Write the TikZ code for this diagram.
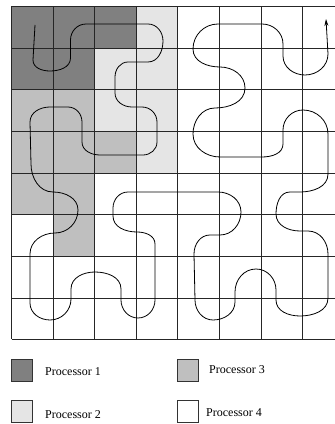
\documentclass[tikz,border=0pt]{standalone}
\usepackage{fontspec}
\setmainfont{Liberation Serif}
\usetikzlibrary{arrows.meta}
\definecolor{pone}{gray}{0.5}
\definecolor{ptwo}{gray}{0.9}
\definecolor{pthree}{gray}{0.75}
\tikzset{
  gridline/.style={line width=1pt, draw=black!85},
  curve/.style={line width=0.8pt, black},
  legbox/.style={draw=black!80, line width=1pt, minimum width=21pt, minimum height=22pt, inner sep=0pt},
  legtext/.style={anchor=west, inner sep=0pt, font=\fontsize{12}{14}\selectfont}
}
\def\GX{{11.5,53.5,94.5,136.5,177.5,219.5,261.5,302.5,344.5}}
\def\GY{{417.5,375.5,334.5,292.5,250.5,209.5,167.5,125.5,84.5}}
\begin{document}
\begin{tikzpicture}[x=1pt,y=1pt]
\useasboundingbox (0,0) rectangle (335,424);
\begin{scope}
\clip (0,0) rectangle (335,424);
% cells
\foreach \c/\r/\col in {0/0/pone,1/0/pone,2/0/pone,0/1/pone,1/1/pone,
  3/0/ptwo,2/1/ptwo,3/1/ptwo,2/2/ptwo,3/2/ptwo,3/3/ptwo,
  0/2/pthree,1/2/pthree,0/3/pthree,1/3/pthree,2/3/pthree,0/4/pthree,1/4/pthree,1/5/pthree}{
  \pgfmathsetmacro\xa{\GX[\c]}
  \pgfmathsetmacro\xb{\GX[\c+1]}
  \pgfmathsetmacro\ya{\GY[\r]}
  \pgfmathsetmacro\yb{\GY[\r+1]}
  \fill[\col] (\xa,\ya) rectangle (\xb,\yb);
}
\foreach \r in {0,...,8}{
  \pgfmathsetmacro\ya{\GY[\r]}
  \draw[gridline] (11.5,\ya) -- (340,\ya);
}
\foreach \c in {0,...,7}{
  \pgfmathsetmacro\xa{\GX[\c]}
  \draw[gridline] (\xa,417.5) -- (\xa,84.5);
}
% curve
\coordinate (cs) at (35,399);
\coordinate (ce) at (326,405);
\draw[curve, -{Stealth[length=7pt,width=4pt]}] (cs)
 -- (33,364)
 to[out=-90,in=180] (50,353)
 to[out=0,in=-90] (70.5,366)
 -- (70.5,384)
 to[out=90,in=180] (86,400)
 -- (148,400)
 to[out=0,in=90] (163,383)
 to[out=-90,in=0] (148,362)
 -- (128,362)
 to[out=180,in=90] (115,347)
 -- (115,331)
 to[out=-90,in=180] (132,317)
 -- (142,317)
 to[out=0,in=90] (157,302)
 -- (157,282)
 to[out=-90,in=0] (143,269)
 -- (100,269)
 to[out=180,in=-90] (82,282)
 -- (82,302)
 to[out=90,in=0] (68,317)
 -- (50,317)
 to[out=180,in=90] (30,302)
 -- (31,260)
 to[out=-90,in=180] (53,232)
 to[out=0,in=90] (78,214)
 to[out=-90,in=0] (55,191)
 to[out=180,in=90] (30,170)
 -- (30,121)
 to[out=-90,in=180] (50,104)
 to[out=0,in=-90] (71,125)
 -- (71,135)
 to[out=90,in=180] (95,152)
 to[out=0,in=90] (121,135)
 -- (121,124)
 to[out=-90,in=180] (138,106)
 to[out=0,in=-90] (155,124)
 -- (155,180)
 to[out=90,in=0] (137,192)
 to[out=180,in=-90] (113,208)
 -- (113,216)
 to[out=90,in=180] (128,232)
 -- (218,232)
 to[out=0,in=90] (241,212)
 to[out=-90,in=0] (220,189)
 -- (210,189)
 to[out=180,in=90] (194,170)
 -- (195,124)
 to[out=-90,in=180] (213,104)
 to[out=0,in=-90] (235,122)
 -- (235,132)
 to[out=90,in=180] (256,155)
 to[out=0,in=90] (276,134)
 -- (276,124)
 to[out=-90,in=180] (300,108)
 to[out=0,in=-90] (328,126)
 -- (328,170)
 to[out=90,in=0] (308,193)
 -- (300,193)
 to[out=180,in=-90] (276,210)
 to[out=90,in=180] (290,232)
 -- (300,232)
 to[out=0,in=-90] (328,250)
 -- (328,290)
 to[out=90,in=0] (303,314)
 to[out=180,in=90] (283,294)
 -- (283,280)
 to[out=-90,in=0] (262,267)
 -- (220,267)
 to[out=180,in=-90] (193,290)
 to[out=90,in=180] (215,316)
 to[out=0,in=-90] (245,336)
 to[out=90,in=0] (220,357)
 to[out=180,in=-90] (193,375)
 to[out=90,in=180] (218,400)
 -- (262,400)
 to[out=0,in=90] (283,380)
 -- (283,368)
 to[out=-90,in=180] (305,349)
 to[out=0,in=-90] (328,370)
 -- (ce);
\end{scope}
% legend
\node[legbox, fill=pone]   (k1) at (22,53) {};
\node[legbox, fill=ptwo]   (k2) at (22,12) {};
\node[legbox, fill=pthree] (k3) at (188,53) {};
\node[legbox, fill=white]  (k4) at (188,12.5) {};
\node[legtext] (t1) at (45,52.3) {Processor 1};
\node[legtext] (t2) at (45,9.7) {Processor 2};
\node[legtext] (t3) at (209,54) {Processor 3};
\node[legtext] (t4) at (206,11.3) {Processor 4};
\end{tikzpicture}
\end{document}
